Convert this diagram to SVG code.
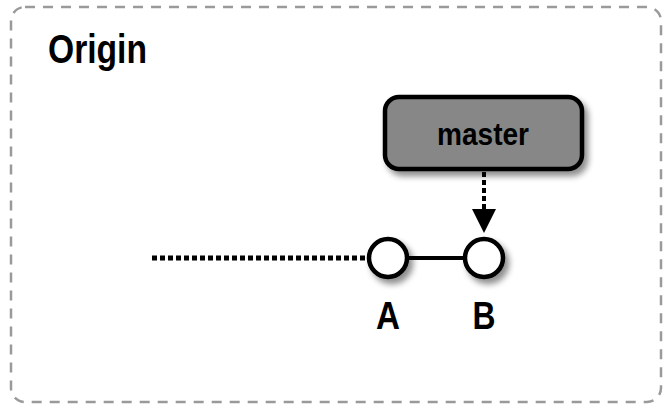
<svg xmlns="http://www.w3.org/2000/svg" width="671" height="409" viewBox="0 0 671 409">
<style>
.lbl{font-family:"Liberation Sans",Arial,sans-serif;font-weight:bold;fill:#000}
.commit{fill:#fff;stroke:#000;stroke-width:4.5}
</style>
<defs>
<filter id="sh" x="-50%" y="-50%" width="200%" height="200%">
<feGaussianBlur in="SourceAlpha" stdDeviation="3"/>
<feOffset dx="4" dy="5" result="b"/>
<feComponentTransfer><feFuncA type="linear" slope="0.45"/></feComponentTransfer>
<feMerge><feMergeNode/><feMergeNode in="SourceGraphic"/></feMerge>
</filter>
<marker id="ah" viewBox="0 0 10 10" refX="10" refY="5" markerWidth="6" markerHeight="6" orient="auto" markerUnits="strokeWidth">
<path d="M0,0 L10,5 L0,10 Z" fill="#000"/>
</marker>
</defs>
<rect x="11" y="7" width="650" height="395" rx="14" fill="#fff" stroke="#9a9a9a" stroke-width="2.5" stroke-dasharray="10,8"/>
<text class="lbl" x="48" y="63" font-size="40" textLength="99" lengthAdjust="spacingAndGlyphs">Origin</text>
<g id="connectors">
<line x1="152" y1="258" x2="367" y2="258" stroke="#000" stroke-width="5" stroke-dasharray="5,3"/>
<line x1="408" y1="258" x2="464" y2="258" stroke="#000" stroke-width="4"/>
<line x1="484" y1="172" x2="484" y2="210" stroke="#000" stroke-width="4" stroke-dasharray="5,3"/>
<path d="M472,209 L496,209 L484,233 Z" fill="#000"/>
</g>
<g id="master">
<rect x="385" y="97" width="197" height="72" rx="14" fill="#878787" stroke="#000" stroke-width="4.5" filter="url(#sh)"/>
<text class="lbl" x="483" y="145" font-size="32" text-anchor="middle" textLength="92" lengthAdjust="spacingAndGlyphs">master</text>
</g>
<g id="A">
<circle class="commit" cx="388" cy="258" r="19" filter="url(#sh)"/>
<text class="lbl" x="388" y="329" font-size="38" text-anchor="middle" textLength="24" lengthAdjust="spacingAndGlyphs">A</text>
</g>
<g id="B">
<circle class="commit" cx="484" cy="258" r="19" filter="url(#sh)"/>
<text class="lbl" x="484" y="329" font-size="38" text-anchor="middle" textLength="23" lengthAdjust="spacingAndGlyphs">B</text>
</g>
</svg>
